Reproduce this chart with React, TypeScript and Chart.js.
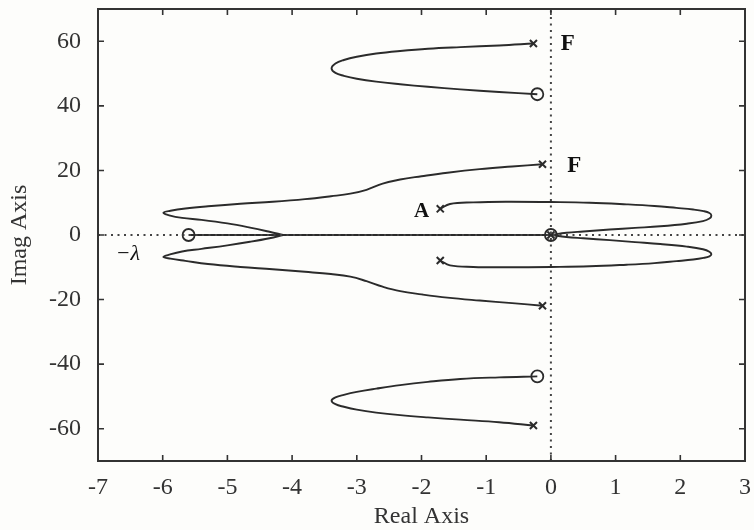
import { useEffect, useRef } from 'react';
import { Chart, registerables } from 'chart.js';

Chart.register(...registerables);

// Axis extents and tick values
const realLimits = [-7, 3];
const imagLimits = [-70, 70];
const realTicks = [-7, -6, -5, -4, -3, -2, -1, 0, 1, 2, 3];
const imagTicks = [-60, -40, -20, 0, 20, 40, 60];

// Upper high-frequency branch: pole near 59j, around the tip, into the zero near 43.6j
const upperLoopRe = [-0.27, -0.8, -1.4, -1.9, -2.33, -2.7, -3.0, -3.2, -3.33, -3.39, -3.33, -3.2, -3.0, -2.7, -2.33, -1.9, -1.4, -0.8, -0.21];
const upperLoopIm = [59.3, 58.7, 58.2, 57.7, 57.0, 56.2, 55.2, 54.2, 53.1, 51.6, 50.2, 49.3, 48.4, 47.5, 46.7, 45.9, 45.1, 44.3, 43.6];

// Lower high-frequency branch (conjugate side)
const lowerLoopRe = [-0.27, -0.8, -1.4, -1.9, -2.33, -2.7, -3.0, -3.2, -3.33, -3.39, -3.33, -3.2, -3.0, -2.7, -2.33, -1.9, -1.4, -0.8, -0.21];
const lowerLoopIm = [-59.0, -58.0, -57.2, -56.5, -55.8, -55.0, -54.1, -53.2, -52.4, -51.3, -50.3, -49.5, -48.6, -47.6, -46.5, -45.5, -44.6, -44.1, -43.8];

// Upper flexible-mode branch: pole near 22j, out to the left, back to the break-in point
const bigUpperRe = [-0.13, -0.6, -1.1, -1.6, -2.0, -2.33, -2.6, -2.85, -3.1, -3.4, -3.8, -4.3, -4.8, -5.3, -5.65, -5.88, -5.99, -5.9, -5.7, -5.4, -5.0, -4.65, -4.35, -4.14];
const bigUpperIm = [21.9, 21.2, 20.4, 19.3, 18.2, 17.2, 15.9, 14.0, 12.8, 12.0, 11.1, 10.3, 9.7, 8.9, 8.2, 7.5, 6.9, 6.1, 5.3, 4.7, 3.6, 2.3, 1.0, 0];

// Lower flexible-mode branch
const bigLowerRe = [-0.13, -0.6, -1.1, -1.6, -2.0, -2.33, -2.6, -2.85, -3.1, -3.4, -3.8, -4.3, -4.8, -5.3, -5.65, -5.88, -5.99, -5.9, -5.7, -5.4, -5.0, -4.65, -4.35, -4.14];
const bigLowerIm = [-21.9, -21.1, -20.3, -19.4, -18.4, -17.4, -16.0, -14.3, -12.9, -12.1, -11.4, -10.6, -9.9, -9.0, -8.0, -7.3, -6.8, -6.1, -5.1, -4.3, -3.2, -2.1, -1.0, 0];

// Branch leaving pole A, looping into the right half-plane and back to the origin
const aUpperRe = [-1.71, -1.56, -1.2, -0.7, 0.0, 0.6, 1.17, 1.6, 1.94, 2.2, 2.36, 2.45, 2.48, 2.45, 2.35, 2.1, 1.69, 1.3, 0.91, 0.5, 0.24, 0];
const aUpperIm = [8.1, 9.6, 10.1, 10.3, 10.2, 10.0, 9.5, 9.0, 8.4, 7.9, 7.4, 6.8, 6.0, 5.1, 4.3, 3.5, 2.7, 2.2, 1.7, 1.1, 0.7, 0];
const aLowerRe = [-1.71, -1.56, -1.2, -0.7, 0.0, 0.6, 1.17, 1.6, 1.94, 2.2, 2.36, 2.45, 2.48, 2.45, 2.35, 2.1, 1.69, 1.3, 0.91, 0.5, 0.24, 0];
const aLowerIm = [-7.9, -9.4, -9.9, -10.0, -9.9, -9.7, -9.2, -8.7, -8.1, -7.6, -7.1, -6.6, -6.0, -5.2, -4.4, -3.6, -2.8, -2.2, -1.6, -1.0, -0.6, 0];

// Real-axis segment between the zero at -λ and the origin
const realSegmentRe = [-5.6, 0];
const realSegmentIm = [0, 0];

// Open-loop poles (×) and zeros (○)
const poleRe = [-0.27, -0.13, -1.71, -1.71, -0.13, -0.27, 0];
const poleIm = [59.3, 21.9, 8.1, -7.9, -21.9, -59.0, 0];
const zeroRe = [-0.21, -0.21, -5.6, 0];
const zeroIm = [43.6, -43.8, 0, 0];

// Text annotations placed in data coordinates
const annotationText = ['F', 'F', 'A', '−λ'];
const annotationRe = [0.26, 0.36, -2.0, -6.54];
const annotationIm = [59.2, 21.4, 7.4, -6.0];

const SERIF = '"Liberation Serif", "DejaVu Serif", serif';
const INK = '#2b2b2b';

const pts = (re: number[], im: number[]) => re.map((x, i) => ({ x, y: im[i] }));

const curve = (re: number[], im: number[]) => ({
  data: pts(re, im),
  showLine: true,
  borderColor: INK,
  borderWidth: 1.9,
  pointRadius: 0,
  tension: 0.4,
  fill: false,
});

const framePlugin = {
  id: 'frame',
  beforeDraw(chart: any) {
    const { ctx, width, height } = chart;
    ctx.save();
    ctx.fillStyle = '#fdfdfb';
    ctx.fillRect(0, 0, width, height);
    ctx.restore();
  },
  afterDraw(chart: any) {
    const { ctx, chartArea: a, scales } = chart;
    ctx.save();
    ctx.strokeStyle = '#333';
    ctx.lineWidth = 2;
    ctx.strokeRect(a.left, a.top, a.right - a.left, a.bottom - a.top);
    ctx.lineWidth = 1.6;
    const len = 6;
    ctx.beginPath();
    realTicks.forEach((v) => {
      if (v <= realLimits[0] || v >= realLimits[1]) return;
      const px = scales.x.getPixelForValue(v);
      ctx.moveTo(px, a.bottom);
      ctx.lineTo(px, a.bottom - len);
      ctx.moveTo(px, a.top);
      ctx.lineTo(px, a.top + len);
    });
    imagTicks.forEach((v) => {
      const py = scales.y.getPixelForValue(v);
      ctx.moveTo(a.left, py);
      ctx.lineTo(a.left + len, py);
      ctx.moveTo(a.right, py);
      ctx.lineTo(a.right - len, py);
    });
    ctx.stroke();
    ctx.restore();
  },
};

const annotationPlugin = {
  id: 'annotations',
  afterDatasetsDraw(chart: any) {
    const { ctx, scales } = chart;
    ctx.save();
    ctx.fillStyle = '#111';
    ctx.textAlign = 'center';
    ctx.textBaseline = 'middle';
    annotationText.forEach((t, i) => {
      const px = scales.x.getPixelForValue(annotationRe[i]);
      const py = scales.y.getPixelForValue(annotationIm[i]);
      if (t === 'F') ctx.font = `bold 23px ${SERIF}`;
      else if (t === 'A') ctx.font = `bold 21px ${SERIF}`;
      else ctx.font = `italic 22px ${SERIF}`;
      ctx.fillText(t, px, py);
    });
    ctx.restore();
  },
};

export default function App() {
  const canvasRef = useRef<HTMLCanvasElement | null>(null);

  useEffect(() => {
    document.body.style.margin = '0';
    const canvas = canvasRef.current;
    if (!canvas) return;

    const chart = new Chart(canvas, {
      type: 'scatter',
      data: {
        datasets: [
          // dotted reference axes through the origin
          {
            data: [{ x: 0, y: imagLimits[0] }, { x: 0, y: imagLimits[1] }],
            showLine: true,
            borderColor: '#444',
            borderWidth: 2,
            borderDash: [2, 4.5],
            pointRadius: 0,
          },
          {
            data: [{ x: realLimits[0], y: 0 }, { x: realLimits[1], y: 0 }],
            showLine: true,
            borderColor: '#444',
            borderWidth: 2,
            borderDash: [2, 4.5],
            pointRadius: 0,
          },
          curve(upperLoopRe, upperLoopIm),
          curve(lowerLoopRe, lowerLoopIm),
          curve(bigUpperRe, bigUpperIm),
          curve(bigLowerRe, bigLowerIm),
          curve(aUpperRe, aUpperIm),
          curve(aLowerRe, aLowerIm),
          { ...curve(realSegmentRe, realSegmentIm), tension: 0 },
          {
            data: pts(poleRe, poleIm),
            pointStyle: 'crossRot',
            pointRadius: 5,
            borderColor: INK,
            borderWidth: 2,
            showLine: false,
          },
          {
            data: pts(zeroRe, zeroIm),
            pointStyle: 'circle',
            pointRadius: 6,
            borderColor: INK,
            borderWidth: 1.8,
            backgroundColor: 'rgba(0,0,0,0)',
            showLine: false,
          },
        ],
      },
      options: {
        responsive: false,
        animation: false,
        devicePixelRatio: 1,
        layout: { padding: { top: 9, right: 9, left: 0, bottom: 0 } },
        plugins: {
          legend: { display: false },
          tooltip: { enabled: false },
        },
        scales: {
          x: {
            type: 'linear',
            min: realLimits[0],
            max: realLimits[1],
            afterBuildTicks: (s: any) => {
              s.ticks = realTicks.map((value) => ({ value }));
            },
            afterFit: (s: any) => {
              s.height = 69;
              s.paddingLeft = 0;
              s.paddingRight = 0;
            },
            grid: { display: false, drawTicks: false },
            border: { display: false },
            ticks: {
              font: { family: SERIF, size: 24 },
              color: '#333',
              padding: 12,
              maxRotation: 0,
              autoSkip: false,
            },
            title: {
              display: true,
              text: 'Real Axis',
              font: { family: SERIF, size: 24, lineHeight: 1.1 },
              color: '#333',
              padding: 0,
            },
          },
          y: {
            type: 'linear',
            min: imagLimits[0],
            max: imagLimits[1],
            afterBuildTicks: (s: any) => {
              s.ticks = imagTicks.map((value) => ({ value }));
            },
            afterFit: (s: any) => {
              s.width = 98;
              s.paddingTop = 0;
              s.paddingBottom = 0;
            },
            grid: { display: false, drawTicks: false },
            border: { display: false },
            ticks: {
              font: { family: SERIF, size: 24 },
              color: '#333',
              padding: 17,
              autoSkip: false,
            },
            title: {
              display: true,
              text: 'Imag Axis',
              font: { family: SERIF, size: 24, lineHeight: 1.1 },
              color: '#333',
              padding: { top: 7, bottom: 0 },
            },
          },
        },
      },
      plugins: [framePlugin, annotationPlugin],
    } as any);

    return () => chart.destroy();
  }, []);

  return (
    <div style={{ width: 754, height: 530 }}>
      <canvas ref={canvasRef} width={754} height={530} style={{ display: 'block' }} />
    </div>
  );
}
